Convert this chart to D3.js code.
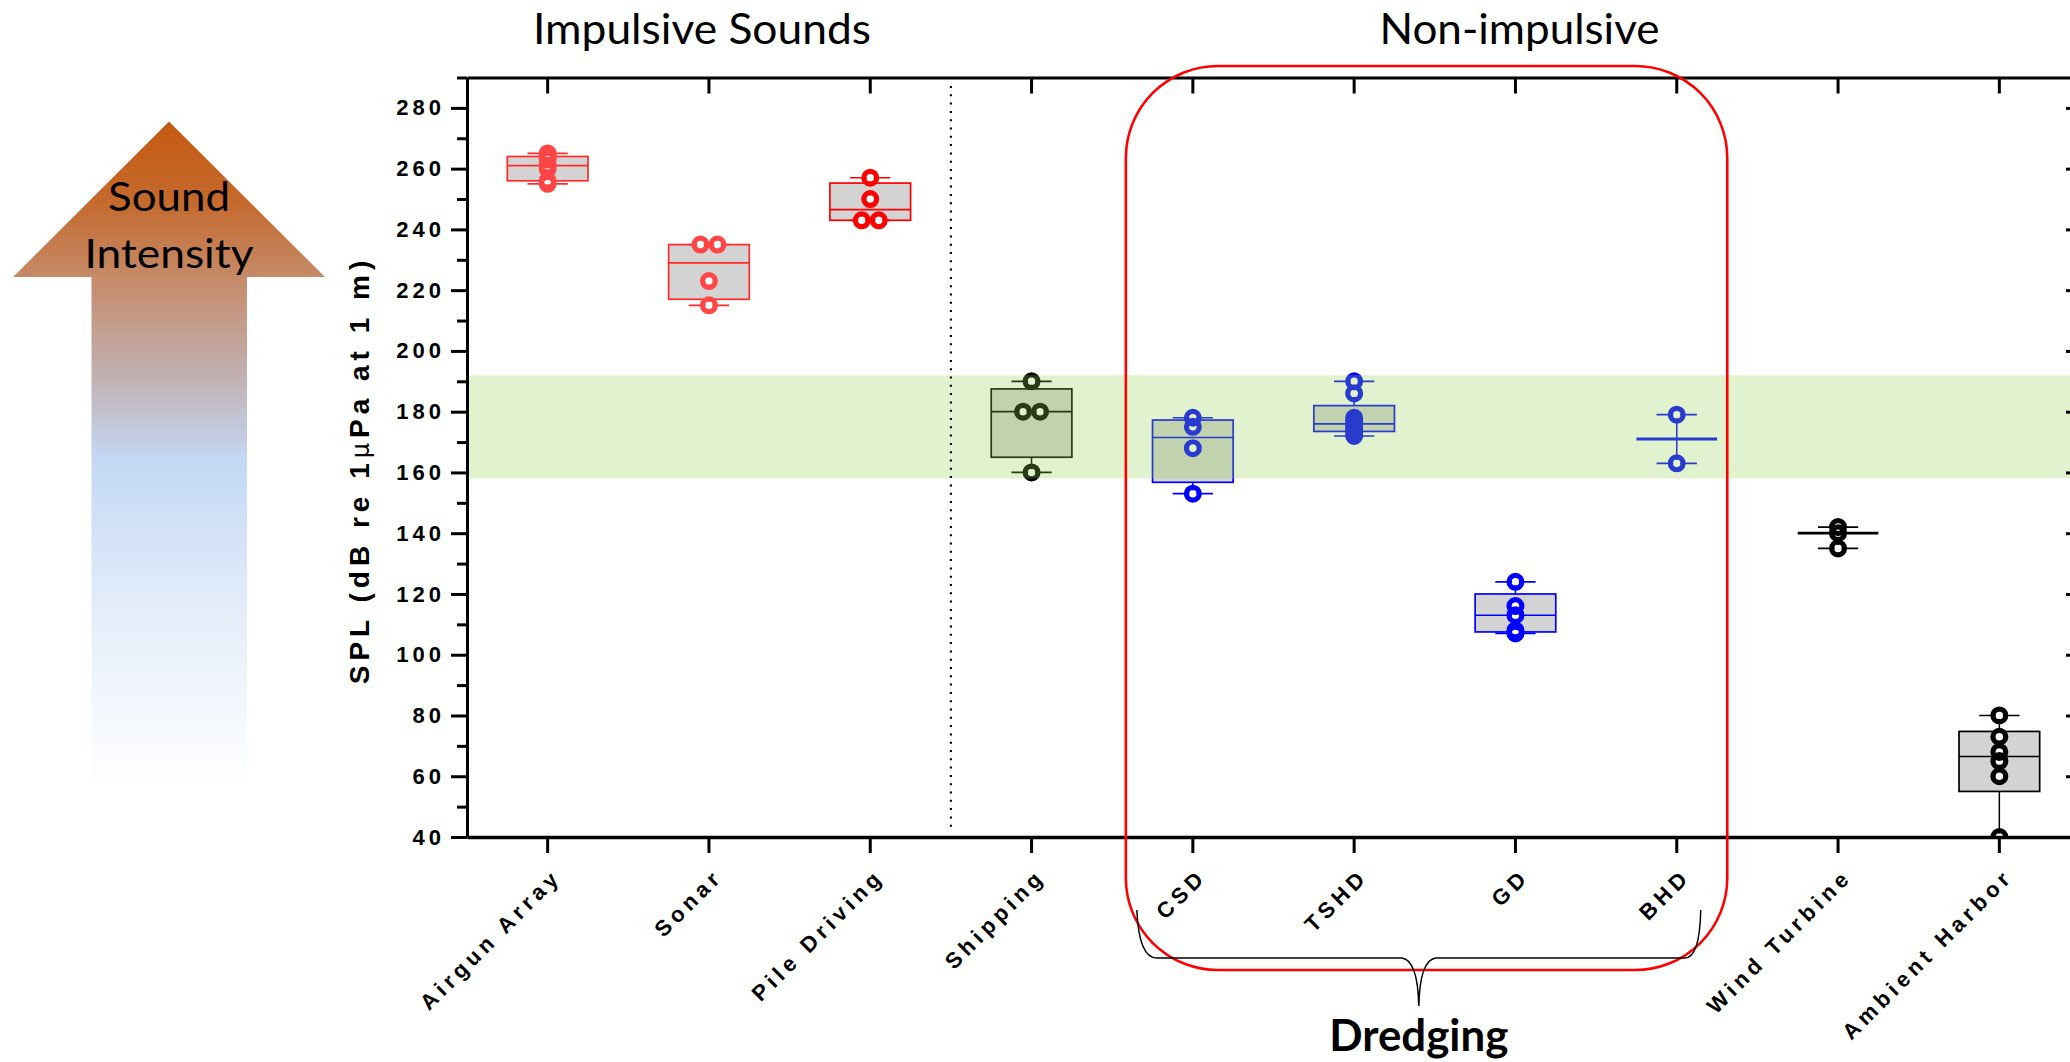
<!DOCTYPE html>
<html>
<head>
<meta charset="utf-8">
<script src="https://cdn.jsdelivr.net/npm/d3@7"></script>
<style>
  html, body { margin: 0; padding: 0; background: #fff; }
  svg { display: block; }
</style>
</head>
<body>
<svg id="chart" width="2070" height="1062"></svg>
<script>
// ---------------- DATA ----------------
const categories = ["Airgun Array", "Sonar", "Pile Driving", "Shipping", "CSD", "TSHD", "GD", "BHD", "Wind Turbine", "Ambient Harbor"];
const splAirgun   = [255, 256, 260, 261, 263, 264, 265];
const splSonar    = [215, 223, 235, 235];
const splPile     = [243, 243, 250, 257];
const splShipping = [160, 180, 180, 190];
const splCSD      = [153, 168, 175, 178];
const splTSHD     = [172, 173, 174, 175, 176, 177, 178, 186, 190];
const splGD       = [107, 108, 113, 116, 124];
const splBHD      = [163, 179];
const splWind     = [135, 140, 142];
const splAmbient  = [40, 60, 65, 68, 73, 80];
const seriesValues = [splAirgun, splSonar, splPile, splShipping, splCSD, splTSHD, splGD, splBHD, splWind, splAmbient];
const yTicksMajor = [40, 60, 80, 100, 120, 140, 160, 180, 200, 220, 240, 260, 280];
const yTicksMinor = [50, 70, 90, 110, 130, 150, 170, 190, 210, 230, 250, 270, 290];
const yDomain = [40, 290];
const commonRange = [158, 192];           // shaded band
const groupTitles = ["Impulsive Sounds", "Non-impulsive"];
const bracketLabel = "Dredging";
const arrowLabel = ["Sound", "Intensity"];
const yTitleParts = ["SPL (dB re 1", "\u03BC", "Pa at 1 m)"];

// ---------------- STYLE ----------------
const lineColor  = ["#FF2A2A", "#FF2A2A", "#FF0000", "#000000", "#0000FF", "#0000FF", "#0000FF", "#0000FF", "#000000", "#000000"];
const pointColor = ["#FF4545", "#FF4545", "#FF0000", "#000000", "#0000FF", "#0000FF", "#0000FF", "#0000FF", "#000000", "#000000"];

const svg = d3.select("#chart");
const W = 2070, H = 1062;
const plotLeft = 467, plotRight = 2080, plotTop = 77.5, plotBottom = 837;

const y = d3.scaleLinear().domain(yDomain).range([plotBottom, plotTop]);
const x = d3.scaleBand().domain(categories).range([plotLeft, plotRight]).padding(0);
const cx = c => x(c) + x.bandwidth() / 2;
const step = x.bandwidth();
const boxW = step * 0.5, capW = step * 0.25;

// Prism-style quantile ((n+1)p)
function quart(s, p) {
  const n = s.length, pos = (n + 1) * p;
  if (pos <= 1) return s[0];
  if (pos >= n) return s[n - 1];
  const lo = Math.floor(pos);
  return s[lo - 1] + (pos - lo) * (s[lo] - s[lo - 1]);
}

// ---------------- ARROW ----------------
const defs = svg.append("defs");
const grad = defs.append("linearGradient").attr("id", "arrowGrad")
  .attr("gradientUnits", "userSpaceOnUse").attr("x1", 0).attr("x2", 0).attr("y1", 121).attr("y2", 800);
[[0, "#C55A11"], [0.116, "#C4692C"], [0.23, "#C58A68"], [0.38, "#C2B2B5"], [0.5, "#C3D8F5"], [0.735, "#E6EEFA"], [0.985, "#FFFFFF"]]
  .forEach(([o, c]) => grad.append("stop").attr("offset", o).attr("stop-color", c));
const arrowPts = [[169, 121.5], [325, 277], [247, 277], [247, 800], [91.5, 800], [91.5, 277], [13, 277]];
svg.append("polygon").attr("points", arrowPts.map(p => p.join(",")).join(" ")).attr("fill", "url(#arrowGrad)");
svg.append("text").attr("x", 169).attr("y", 211).attr("text-anchor", "middle")
  .attr("font-family", "Lato, 'Open Sans', sans-serif").attr("font-size", 41)
  .attr("textLength", 122).attr("lengthAdjust", "spacingAndGlyphs").text(arrowLabel[0]);
svg.append("text").attr("x", 169).attr("y", 268).attr("text-anchor", "middle")
  .attr("font-family", "Lato, 'Open Sans', sans-serif").attr("font-size", 41)
  .attr("textLength", 169).attr("lengthAdjust", "spacingAndGlyphs").text(arrowLabel[1]);

// ---------------- PLOT MARKS ----------------
defs.append("clipPath").attr("id", "plotClip").append("rect")
  .attr("x", plotLeft).attr("y", plotTop).attr("width", plotRight - plotLeft).attr("height", plotBottom - plotTop);
const marks = svg.append("g").attr("clip-path", "url(#plotClip)");

const stats = seriesValues.map((vals, i) => {
  const s = vals.slice().sort((a, b) => a - b);
  return { cat: categories[i], i, s, min: s[0], max: s[s.length - 1],
    q1: quart(s, 0.25), med: quart(s, 0.5), q3: quart(s, 0.75), hasBox: s.length >= 4 };
});

stats.forEach(d => {
  const c = cx(d.cat), col = lineColor[d.i];
  const g = marks.append("g");
  if (d.hasBox) {
    g.append("line").attr("x1", c).attr("x2", c).attr("y1", y(d.q3)).attr("y2", y(d.max)).attr("stroke", col).attr("stroke-width", 1.5);
    g.append("line").attr("x1", c).attr("x2", c).attr("y1", y(d.q1)).attr("y2", y(d.min)).attr("stroke", col).attr("stroke-width", 1.5);
    g.append("rect").attr("x", c - boxW / 2).attr("y", y(d.q3)).attr("width", boxW).attr("height", y(d.q1) - y(d.q3))
      .attr("fill", "#D3D3D3").attr("stroke", col).attr("stroke-width", 1.7);
    g.append("line").attr("x1", c - boxW / 2).attr("x2", c + boxW / 2).attr("y1", y(d.med)).attr("y2", y(d.med)).attr("stroke", col).attr("stroke-width", 1.7);
  } else {
    g.append("line").attr("x1", c).attr("x2", c).attr("y1", y(d.max)).attr("y2", y(d.min)).attr("stroke", col).attr("stroke-width", 1.5);
    g.append("line").attr("x1", c - boxW / 2).attr("x2", c + boxW / 2).attr("y1", y(d.med)).attr("y2", y(d.med)).attr("stroke", col).attr("stroke-width", 2.8);
  }
  [d.min, d.max].forEach(v => g.append("line").attr("x1", c - capW / 2).attr("x2", c + capW / 2).attr("y1", y(v)).attr("y2", y(v)).attr("stroke", col).attr("stroke-width", 1.7));
});

// points: spread equal values side by side
const pts = [];
stats.forEach(d => {
  const groups = d3.group(d.s, v => v);
  groups.forEach((arr, v) => {
    arr.forEach((_, k) => pts.push({ cat: d.cat, i: d.i, v, off: (k - (arr.length - 1) / 2) * 17 }));
  });
});
const ptLayer = marks.append("g");
ptLayer.selectAll("circle.hole").data(pts).join("circle").attr("class", "hole")
  .attr("cx", p => cx(p.cat) + p.off).attr("cy", p => y(p.v)).attr("r", 3.5).attr("fill", "#fff");
ptLayer.selectAll("circle.ring").data(pts).join("circle").attr("class", "ring")
  .attr("cx", p => cx(p.cat) + p.off).attr("cy", p => y(p.v)).attr("r", 6.4)
  .attr("fill", "none").attr("stroke", p => pointColor[p.i]).attr("stroke-width", 5.2);

// green band overlay
svg.append("rect").attr("x", plotLeft).attr("y", y(commonRange[1])).attr("width", W - plotLeft)
  .attr("height", y(commonRange[0]) - y(commonRange[1])).attr("fill", "#92D050").attr("fill-opacity", 0.28);

// ---------------- AXES ----------------
const tickFont = "'Liberation Sans', Arial, sans-serif";
const yAxis = svg.append("g").attr("transform", `translate(${plotLeft},0)`)
  .call(d3.axisLeft(y).tickValues(yTicksMajor).tickSize(16).tickSizeOuter(0).tickPadding(6).tickFormat(d3.format("d")));
yAxis.select(".domain").attr("stroke-width", 3);
yAxis.selectAll(".tick line").attr("stroke-width", 3);
yAxis.selectAll(".tick text").attr("font-family", tickFont).attr("font-weight", "bold").attr("font-size", 22)
  .attr("letter-spacing", 4).attr("fill", "#000");
const yMinor = svg.append("g").attr("transform", `translate(${plotLeft},0)`)
  .call(d3.axisLeft(y).tickValues(yTicksMinor).tickSize(10).tickSizeOuter(0).tickFormat(""));
yMinor.select(".domain").remove();
yMinor.selectAll(".tick line").attr("stroke-width", 3);

const rAxis = svg.append("g").attr("transform", `translate(2075,0)`)
  .call(d3.axisLeft(y).tickValues(yTicksMajor).tickSize(9).tickSizeOuter(0).tickFormat(""));
rAxis.selectAll(".tick line").attr("stroke-width", 3);
rAxis.select(".domain").attr("stroke-width", 3);

const xAxis = svg.append("g").attr("transform", `translate(0,${plotBottom})`)
  .call(d3.axisBottom(x).tickSize(16).tickSizeOuter(0).tickFormat(""));
xAxis.select(".domain").attr("stroke-width", 3.5);
xAxis.selectAll(".tick line").attr("stroke-width", 3);

const tAxis = svg.append("g").attr("transform", `translate(0,${plotTop})`)
  .call(d3.axisTop(x).tickSize(-16).tickSizeOuter(0).tickFormat(""));
tAxis.select(".domain").attr("stroke-width", 3);
tAxis.selectAll(".tick line").attr("stroke-width", 3);

// x category labels
svg.append("g").selectAll("text").data(categories).join("text")
  .attr("transform", c => `translate(${cx(c) + 15},878) rotate(-45)`)
  .attr("text-anchor", "end").attr("font-family", tickFont).attr("font-weight", "bold")
  .attr("font-size", 22).attr("letter-spacing", 4.6).text(c => c);

// y title
const yt = svg.append("text").attr("transform", "translate(369,470) rotate(-90)").attr("text-anchor", "middle")
  .attr("font-family", tickFont).attr("font-weight", "bold").attr("font-size", 28).attr("letter-spacing", 5);
yt.append("tspan").text(yTitleParts[0]);
yt.append("tspan").attr("font-weight", "normal").attr("font-size", 24).attr("font-family", "'DejaVu Sans', sans-serif").text(yTitleParts[1]);
yt.append("tspan").text(yTitleParts[2]);

// dotted separator between impulsive and non-impulsive
const sepX = x(categories[3]);
svg.append("line").attr("x1", sepX).attr("x2", sepX).attr("y1", 86).attr("y2", 832)
  .attr("stroke", "#000").attr("stroke-width", 2.2).attr("stroke-dasharray", "2 6.3");

// group titles
svg.append("text").attr("x", 702).attr("y", 43.5).attr("text-anchor", "middle")
  .attr("font-family", "Lato, 'Open Sans', sans-serif").attr("font-size", 42)
  .attr("textLength", 338).attr("lengthAdjust", "spacingAndGlyphs").text(groupTitles[0]);
svg.append("text").attr("x", 1519.5).attr("y", 43.5).attr("text-anchor", "middle")
  .attr("font-family", "Lato, 'Open Sans', sans-serif").attr("font-size", 42)
  .attr("textLength", 280).attr("lengthAdjust", "spacingAndGlyphs").text(groupTitles[1]);

// dredging highlight box
const rL = cx("CSD") - 67, rR = cx("BHD") + 50.5;
svg.append("rect").attr("x", rL).attr("y", 66).attr("width", rR - rL).attr("height", 904).attr("rx", 92).attr("ry", 92)
  .attr("fill", "none").attr("stroke", "#FF0000").attr("stroke-width", 2.6);

// brace
const bL = cx("CSD") - 56, bR = cx("BHD") + 24, bM = (bL + bR) / 2;
const brace = `M${bL},910 Q${bL + 2},958 ${bL + 20},958 L${bM - 17},958 Q${bM - 1},960 ${bM},1006 Q${bM + 1},960 ${bM + 17},958 L${bR - 16},958 Q${bR - 1},958 ${bR},910`;
svg.append("path").attr("d", brace).attr("fill", "none").attr("stroke", "#000").attr("stroke-width", 1.5);
svg.append("text").attr("x", bM).attr("y", 1051).attr("text-anchor", "middle")
  .attr("font-family", "Lato, 'Open Sans', sans-serif").attr("font-weight", "bold").attr("font-size", 44)
  .attr("textLength", 179).attr("lengthAdjust", "spacingAndGlyphs").text(bracketLabel);
</script>
</body>
</html>
